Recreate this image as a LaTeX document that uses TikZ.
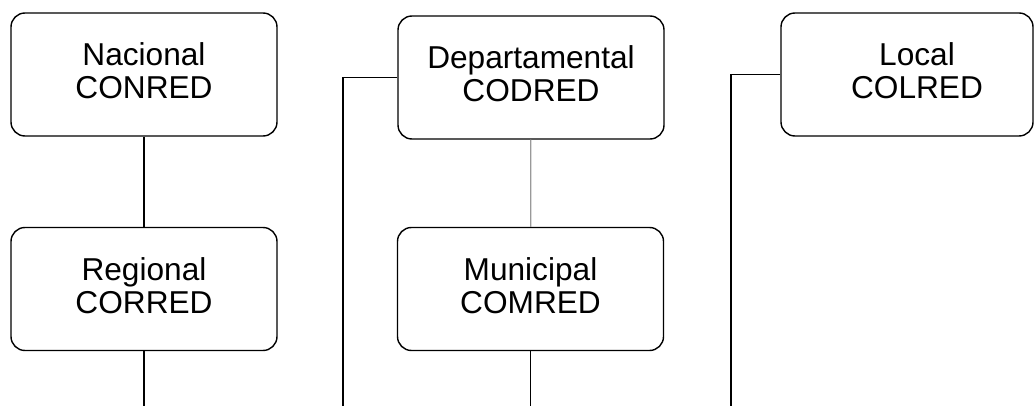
\documentclass[tikz,border=0pt]{standalone}
\usepackage{fontspec}
\setmainfont{Liberation Sans}
\usetikzlibrary{positioning}
\usetikzlibrary{calc}

\tikzset{
nivel/.style={draw,line width=0.8pt,rounded corners=0.28cm,minimum width=5.32cm,minimum height=2.46cm,inner sep=0pt},
nivelTexto/.style={align=center,font=\fontsize{18}{18.7}\selectfont,yshift=0.07cm},
liga/.style={line width=0.7pt},
ligaClara/.style={line width=0.7pt,black!40}
}

\begin{document}
\begin{tikzpicture}
\useasboundingbox (0,0) rectangle (20.68,-8.12);
\node[nivel,label={[nivelTexto]center:Nacional\\CONRED}](nac) at (2.88,-1.49){};
\node[nivel,label={[nivelTexto]center:Regional\\CORRED}](reg) at (2.88,-5.78){};
\node[nivel,label={[nivelTexto]center:Departamental\\CODRED}](dep) at (10.62,-1.55){};
\node[nivel,label={[nivelTexto]center:Municipal\\COMRED}](mun) at (10.61,-5.78){};
\node[nivel,minimum width=5.04cm,label={[nivelTexto,xshift=0.2cm]center:Local\\COLRED}](loc) at (18.14,-1.49){};

\coordinate (endReg) at ($(reg.south)+(0,-1.14)$);
\coordinate (endMun) at ($(mun.south)+(0,-1.14)$);
\coordinate (endDep) at (6.86,-8.12);
\coordinate (endLoc) at (14.62,-8.12);

\path
(nac) edge[liga] (reg)
(dep) edge[ligaClara] (mun)
(reg.south) edge[liga] (endReg)
(mun.south) edge[liga] (endMun);

\draw[liga] (dep.west) -| (endDep);
\draw[liga] (loc.west) -| (endLoc);
\end{tikzpicture}
\end{document}
